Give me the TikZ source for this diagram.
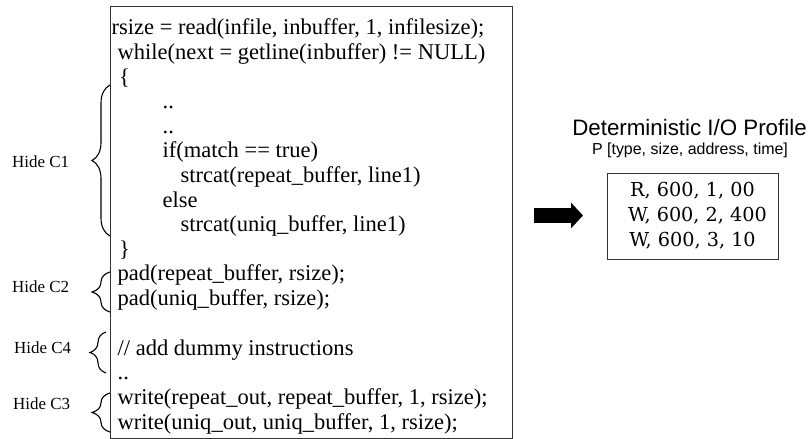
\documentclass[tikz,border=0pt]{standalone}
\usepackage{fontspec}
\setmainfont{Liberation Serif}
\newfontfamily\sansf{Liberation Sans}
\newfontfamily\dvserif{DejaVu Serif}
\usetikzlibrary{decorations.pathreplacing,arrows.meta}
\begin{document}
\begin{tikzpicture}[x=1bp,y=-1bp,
  codeline/.style={anchor=base west, inner sep=0pt, font=\fontsize{22.6}{24.6}\selectfont},
  hidelabel/.style={anchor=base west, inner sep=0pt, font=\fontsize{17}{20}\selectfont},
  bracepath/.style={decorate, decoration={brace, amplitude=#1}, line width=1.1bp, black},
  boxline/.style={draw=black!80, line width=0.9bp}]
\useasboundingbox (0,0) rectangle (811,439);
% code box
\draw[boxline] (110.7,6) rectangle (512,438);
% code lines
\node[codeline] (l1) at (111.5,35) {rsize = read(infile, inbuffer, 1, infilesize);};
\node[codeline] (l2) at (117.5,59.6) {while(next = getline(inbuffer) != NULL)};
\node[codeline] (l3) at (119,84.2) {\{};
\node[codeline] (l4) at (162.5,108.8) {..};
\node[codeline] (l5) at (162.5,133.4) {..};
\node[codeline] (l6) at (162.5,158) {if(match == true)};
\node[codeline] (l7) at (180.5,182.6) {strcat(repeat\_buffer, line1)};
\node[codeline] (l8) at (162.5,207.2) {else};
\node[codeline] (l9) at (180.5,231.8) {strcat(uniq\_buffer, line1)};
\node[codeline] (l10) at (119,256.4) {\}};
\node[codeline] (l11) at (117.5,281) {pad(repeat\_buffer, rsize);};
\node[codeline] (l12) at (117.5,305.6) {pad(uniq\_buffer, rsize);};
\node[codeline] (l13) at (117.5,356) {// add dummy instructions};
\node[codeline] (l14) at (117.5,380) {..};
\node[codeline] (l15) at (117.5,404.6) {write(repeat\_out, repeat\_buffer, 1, rsize);};
\node[codeline] (l16) at (117.5,429.2) {write(uniq\_out, uniq\_buffer, 1, rsize);};
% braces
\draw[bracepath=18bp] (110,236) -- (110,85);
\draw[bracepath=18bp] (110,312) -- (110,272);
\draw[bracepath=16bp] (106,373) -- (106,332);
\draw[bracepath=18bp] (110,432) -- (110,393);
% labels
\node[hidelabel] (h1) at (12,168) {Hide C1};
\node[hidelabel] (h2) at (12,293) {Hide C2};
\node[hidelabel] (h4) at (14,354) {Hide C4};
\node[hidelabel] (h3) at (13,409) {Hide C3};
% arrow
\coordinate (arrS) at (534,215.5);
\coordinate (arrE) at (583,215.5);
\draw[line width=15bp, -{Triangle[length=12bp,width=25bp]}] (arrS) -- (arrE);
% profile
\node[font=\sansf\fontsize{22.4}{26}\selectfont, inner sep=0pt] (title) at (689.5,128) {Deterministic I/O Profile};
\node[font=\sansf\fontsize{16}{19}\selectfont, inner sep=0pt] (sub) at (690,150) {P [type, size, address, time]};
\node[boxline, minimum width=171bp, minimum height=86bp, inner sep=0pt, align=center,
  font=\dvserif\fontsize{19.3}{25}\selectfont] (prof) at (692.5,216)
  {R, 600, 1, 00\\\hspace*{10bp}W, 600, 2, 400\\W, 600, 3, 10};
\end{tikzpicture}
\end{document}
